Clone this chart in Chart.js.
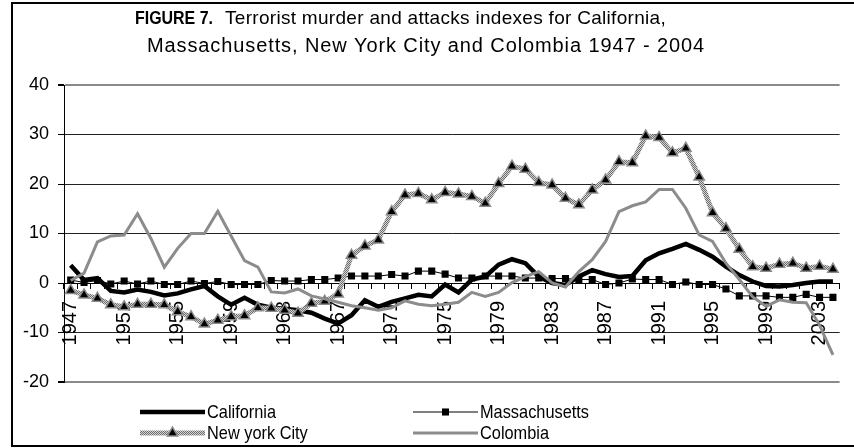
<!DOCTYPE html>
<html>
<head>
<meta charset="utf-8">
<script src="https://cdn.jsdelivr.net/npm/chart.js@4.4.0/dist/chart.umd.min.js"></script>
<style>
  html, body { margin: 0; padding: 0; background: #fff; overflow: hidden; }
  #wrap { width: 870px; height: 448px; }
</style>
</head>
<body>
<div id="wrap"><canvas id="fig7Chart"></canvas></div>
<script>
const years = ['1947','1948','1949','1950','1951','1952','1953','1954','1955','1956',
  '1957','1958','1959','1960','1961','1962','1963','1964','1965','1966',
  '1967','1968','1969','1970','1971','1972','1973','1974','1975','1976',
  '1977','1978','1979','1980','1981','1982','1983','1984','1985','1986',
  '1987','1988','1989','1990','1991','1992','1993','1994','1995','1996',
  '1997','1998','1999','2000','2001','2002','2003','2004'];

const california = [3.6, 0.6, 1.0, -1.6, -1.9, -1.3, -1.8, -2.5, -2.1, -1.3,
  -0.6, -2.7, -4.4, -3.0, -4.4, -5.0, -5.2, -5.5, -6.0, -7.2,
  -8.2, -6.5, -3.5, -4.8, -3.8, -3.1, -2.4, -2.7, -0.3, -1.9,
  0.7, 1.3, 3.7, 4.8, 4.0, 1.3, 0.0, -0.4, 1.3, 2.6,
  1.8, 1.2, 1.4, 4.6, 6.0, 6.9, 7.9, 6.7, 5.3, 3.3,
  1.6, 0.3, -0.6, -0.7, -0.4, 0.0, 0.3, 0.3];

const massachusetts = [0.6, 0.1, 0.5, -0.2, 0.4, -0.2, 0.4, -0.3, -0.3, 0.4,
  -0.1, 0.3, -0.3, -0.3, -0.3, 0.5, 0.4, 0.4, 0.7, 0.7,
  1.0, 1.4, 1.4, 1.4, 1.7, 1.4, 2.4, 2.4, 1.8, 1.0,
  1.0, 1.4, 1.4, 1.4, 1.0, 1.0, 0.9, 0.9, 0.7, 0.7,
  -0.3, 0.0, 0.8, 0.7, 0.7, -0.3, 0.2, -0.3, -0.3, -1.2,
  -2.6, -2.6, -2.6, -2.9, -2.9, -2.3, -2.9, -2.9];

const newYorkCity = [-1.5, -2.4, -3.1, -4.4, -4.8, -4.3, -4.3, -4.4, -5.8, -6.8,
  -8.3, -7.5, -6.8, -6.6, -5.0, -5.1, -5.5, -6.1, -4.1, -3.7,
  -2.2, 5.6, 7.5, 8.7, 14.4, 17.8, 18.1, 16.8, 18.3, 18.0,
  17.5, 16.1, 20.1, 23.6, 23.0, 20.3, 19.8, 17.1, 15.8, 18.8,
  20.8, 24.5, 24.3, 29.7, 29.4, 26.3, 27.2, 21.4, 14.2, 11.0,
  6.8, 3.3, 3.0, 3.8, 4.0, 3.0, 3.4, 2.8];

const colombia = [0.5, 2.0, 8.3, 9.5, 9.7, 14.0, 9.0, 3.2, 7.0, 10.0,
  10.0, 14.5, 9.5, 4.5, 3.2, -1.8, -2.0, -1.2, -2.6, -3.2,
  -3.9, -4.6, -5.0, -5.5, -5.0, -3.6, -4.3, -4.6, -4.3, -3.9,
  -1.9, -2.7, -1.9, 0.1, 1.3, 2.3, 0.0, -0.8, 2.3, 4.7,
  8.4, 14.4, 15.6, 16.4, 18.9, 18.9, 15.1, 9.7, 8.4, 4.0,
  0.7, -2.8, -4.7, -3.4, -3.9, -4.0, -8.5, -14.5];

const yTicks = { min: -20, max: 40, step: 10 };

const titleLead = 'FIGURE 7.';
const titleLine1 = 'Terrorist murder and attacks indexes for California,';
const titleLine2 = 'Massachusetts, New York City and Colombia 1947 - 2004';

const sansFont = '"Liberation Sans", Arial, sans-serif';

// stippled grey band used by the New York City series
function makeStipple() {
  const p = document.createElement('canvas');
  p.width = 2; p.height = 2;
  const pc = p.getContext('2d');
  pc.fillStyle = '#d4d4d4'; pc.fillRect(0, 0, 2, 2);
  pc.fillStyle = '#6e6e6e'; pc.fillRect(0, 0, 1, 1); pc.fillRect(1, 1, 1, 1);
  return pc.createPattern(p, 'repeat');
}
const stipple = makeStipple();

// spread text between x0 and x1 with letter spacing
function fitText(c, text, x0, x1, y, font) {
  c.font = font;
  if ('letterSpacing' in c) {
    c.letterSpacing = '0px';
    const w = c.measureText(text).width;
    c.letterSpacing = ((x1 - x0 - w) / text.length) + 'px';
    c.fillText(text, x0, y);
    c.letterSpacing = '0px';
  } else {
    squeezeText(c, text, x0, x1, y, font);
  }
}

// squeeze text horizontally between x0 and x1 (narrow face look)
function squeezeText(c, text, x0, x1, y, font) {
  c.font = font;
  const w = c.measureText(text).width;
  c.save();
  c.translate(x0, y);
  c.scale((x1 - x0) / w, 1);
  c.fillText(text, 0, 0);
  c.restore();
}

const framePlugin = {
  id: 'fig7Frame',
  beforeDraw(chart) {
    const c = chart.ctx;
    c.save();
    c.strokeStyle = '#000';
    c.lineWidth = 2;
    c.strokeRect(12, 3, chart.width, 443);
    c.restore();
  }
};

const titlePlugin = {
  id: 'fig7Title',
  afterDraw(chart) {
    const c = chart.ctx;
    c.save();
    c.fillStyle = '#000';
    c.textBaseline = 'alphabetic';
    c.textAlign = 'left';
    squeezeText(c, titleLead, 135, 213, 24, 'bold 19px ' + sansFont);
    fitText(c, titleLine1, 225, 666, 24, '19px ' + sansFont);
    fitText(c, titleLine2, 147, 705, 52, '20px ' + sansFont);
    c.restore();
  }
};

function drawMarker(c, style, x, y, r, fill, stroke, bw) {
  c.fillStyle = fill;
  c.strokeStyle = stroke;
  c.lineWidth = bw;
  c.beginPath();
  if (style === 'rect') {
    const s = r * Math.SQRT1_2;
    c.rect(x - s, y - s, 2 * s, 2 * s);
  } else {
    c.moveTo(x, y - r);
    c.lineTo(x + r * 0.866, y + r * 0.5);
    c.lineTo(x - r * 0.866, y + r * 0.5);
    c.closePath();
  }
  c.fill();
  if (bw > 0) c.stroke();
}

const legendPlugin = {
  id: 'fig7Legend',
  afterDraw(chart) {
    const c = chart.ctx;
    const slots = [[140, 412], [413, 412], [140, 433], [413, 433]];
    c.save();
    chart.data.datasets.forEach((ds, i) => {
      const [x, y] = slots[i];
      c.strokeStyle = ds.borderColor;
      c.lineWidth = ds.borderWidth;
      c.beginPath();
      c.moveTo(x, y);
      c.lineTo(x + 65, y);
      c.stroke();
      if (ds.pointRadius > 0) {
        drawMarker(c, ds.pointStyle, x + 32.5, y, ds.pointRadius,
          ds.pointBackgroundColor, ds.pointBorderColor, ds.pointBorderWidth);
      }
      c.fillStyle = '#000';
      c.textBaseline = 'middle';
      c.textAlign = 'left';
      c.font = '19px ' + sansFont;
      const w = c.measureText(ds.label).width;
      squeezeText(c, ds.label, x + 67, x + 67 + w * 0.86, y + 1, '19px ' + sansFont);
    });
    c.restore();
  }
};

const ctx = document.getElementById('fig7Chart').getContext('2d');
new Chart(ctx, {
  type: 'line',
  data: {
    labels: years,
    datasets: [
      {
        label: 'California',
        data: california,
        borderColor: '#000',
        borderWidth: 4.5,
        pointRadius: 0,
        tension: 0,
        order: 4
      },
      {
        label: 'Massachusetts',
        data: massachusetts,
        borderColor: '#000',
        borderWidth: 1,
        pointStyle: 'rect',
        pointRadius: 5,
        pointBackgroundColor: '#000',
        pointBorderColor: '#000',
        pointBorderWidth: 0,
        tension: 0,
        order: 3
      },
      {
        label: 'New york City',
        data: newYorkCity,
        borderColor: stipple,
        borderWidth: 5,
        pointStyle: 'triangle',
        pointRadius: 6,
        pointBackgroundColor: '#000',
        pointBorderColor: '#8a8a8a',
        pointBorderWidth: 1.5,
        tension: 0,
        order: 2
      },
      {
        label: 'Colombia',
        data: colombia,
        borderColor: '#8c8c8c',
        borderWidth: 3,
        pointRadius: 0,
        tension: 0,
        order: 1
      }
    ]
  },
  options: {
    responsive: true,
    maintainAspectRatio: false,
    animation: false,
    layout: { padding: { top: 85, bottom: 66, left: 0, right: 8.5 } },
    plugins: {
      legend: { display: false },
      title: { display: false },
      tooltip: { enabled: false }
    },
    scales: {
      x: {
        type: 'category',
        offset: true,
        position: { y: 0 },
        grid: { display: true, drawOnChartArea: false, drawTicks: true, tickLength: 5, color: '#000', offset: true },
        border: { display: true, color: '#000', width: 1 },
        ticks: {
          autoSkip: false,
          minRotation: 90,
          maxRotation: 90,
          padding: 13,
          color: '#000',
          font: { family: sansFont, size: 20 },
          callback: function(value, index) {
            return index % 4 === 0 ? this.getLabelForValue(value) : '';
          }
        },
        afterFit: function(scale) { scale.height = 0; }
      },
      y: {
        min: yTicks.min,
        max: yTicks.max,
        ticks: { stepSize: yTicks.step, padding: 9, color: '#000', font: { family: sansFont, size: 18 } },
        grid: {
          color: c => (c.tick && (c.tick.value === yTicks.max || c.tick.value === yTicks.min)) ? '#8a8a8a' : '#222',
          lineWidth: c => (c.tick && (c.tick.value === yTicks.max || c.tick.value === yTicks.min)) ? 2 : 1,
          tickColor: '#000',
          tickLength: 6
        },
        border: { display: true, color: '#000', width: 1 },
        afterFit: function(scale) { scale.width = 64; }
      }
    }
  },
  plugins: [framePlugin, titlePlugin, legendPlugin]
});
</script>
</body>
</html>
